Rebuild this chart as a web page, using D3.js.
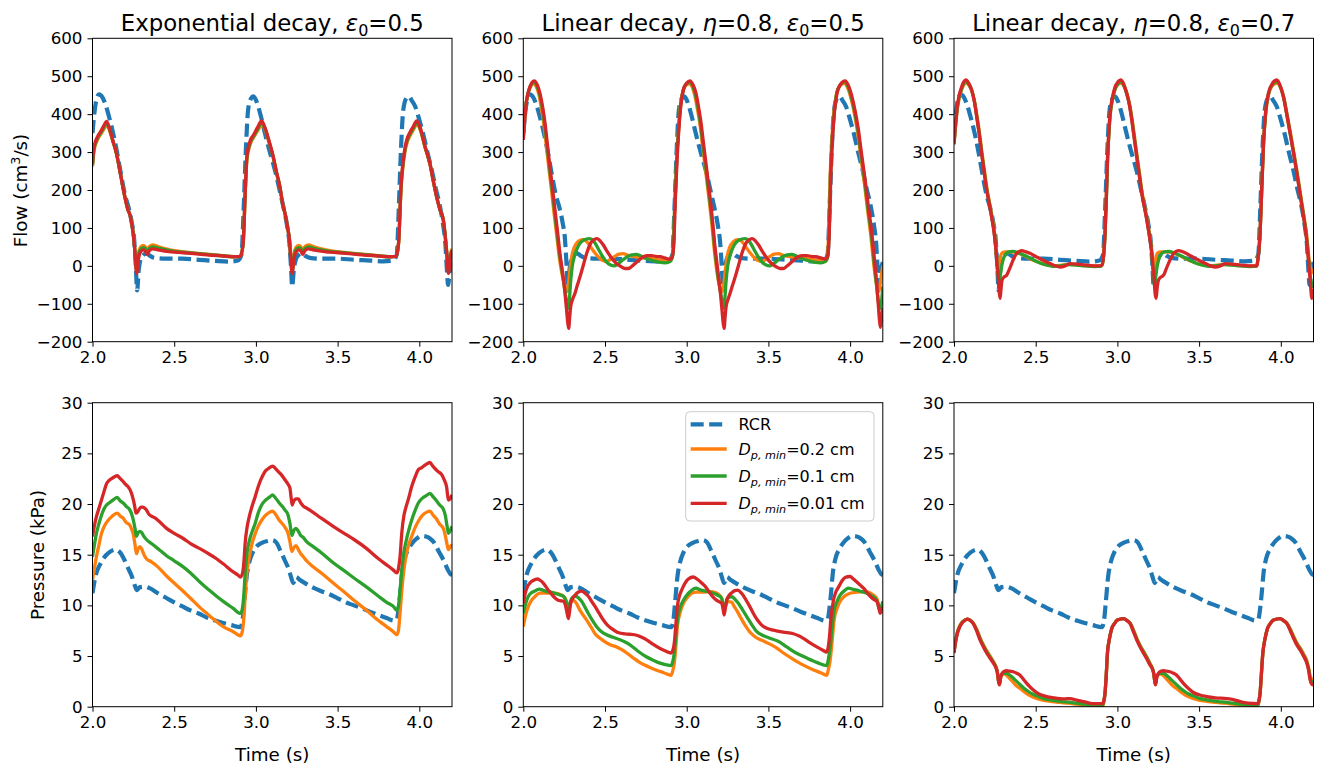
<!DOCTYPE html>
<html><head><meta charset="utf-8">
<script src="https://cdn.jsdelivr.net/npm/d3@7"></script>
<style>body{margin:0;background:#fff} svg text{font-family:"DejaVu Sans",sans-serif}</style>
</head><body><svg id="chart" width="1317" height="767"></svg>
<script>
// ---------------- DATA ----------------
const xDomain = [2.0, 4.2];
const xTicks = [2.0, 2.5, 3.0, 3.5, 4.0];
const flowDomain = [-200, 600];
const flowTicks = [-200, -100, 0, 100, 200, 300, 400, 500, 600];
const pressDomain = [0, 30];
const pressTicks = [0, 5, 10, 15, 20, 25, 30];
const seriesLabels = ["RCR", "0.2 cm", "0.1 cm", "0.01 cm"];
const seriesColors = ["#1f77b4", "#ff7f0e", "#2ca02c", "#d62728"];
const titles = [
  [{t:"Exponential decay, "},{t:"ε",it:1},{t:"0",sub:1},{t:"=0.5"}],
  [{t:"Linear decay, "},{t:"η",it:1},{t:"=0.8, "},{t:"ε",it:1},{t:"0",sub:1},{t:"=0.5"}],
  [{t:"Linear decay, "},{t:"η",it:1},{t:"=0.8, "},{t:"ε",it:1},{t:"0",sub:1},{t:"=0.7"}]
];

// RCR flow (cm3/s)
const flowRCR = [[2.00,350],[2.012,405],[2.025,440],[2.04,452],[2.06,445],[2.08,425],[2.10,395],[2.125,352],[2.15,300],[2.175,240],[2.20,185],[2.22,155],[2.24,115],[2.255,70],[2.265,0],[2.273,-65],[2.283,-10],[2.295,18],[2.31,28],[2.33,33],[2.35,27],[2.38,21],[2.45,19],[2.55,19],[2.65,16],[2.75,13],[2.83,11],[2.89,14],[2.912,30],[2.925,150],[2.938,300],[2.952,410],[2.968,440],[2.985,447],[3.005,432],[3.03,395],[3.055,350],[3.08,308],[3.10,278],[3.125,238],[3.15,190],[3.17,152],[3.19,108],[3.205,60],[3.215,-5],[3.222,-55],[3.232,-10],[3.245,18],[3.26,28],[3.28,33],[3.30,27],[3.33,21],[3.40,19],[3.50,19],[3.60,16],[3.70,14],[3.78,12],[3.84,14],[3.862,30],[3.875,160],[3.888,310],[3.902,412],[3.92,442],[3.935,447],[3.955,435],[3.975,420],[4.00,385],[4.025,345],[4.05,298],[4.075,255],[4.10,205],[4.125,160],[4.145,110],[4.16,55],[4.168,-5],[4.176,-50],[4.186,-15],[4.20,10]];

// Exponential decay flow
const flowExp02 = [[2.00,262],[2.01,305],[2.03,332],[2.055,350],[2.072,362],[2.088,372],[2.10,362],[2.125,328],[2.148,294],[2.17,245],[2.198,182],[2.215,152],[2.232,130],[2.249,88],[2.26,40],[2.27,-10],[2.28,30],[2.292,48],[2.31,54],[2.322,51],[2.335,41],[2.348,51],[2.37,55],[2.40,51],[2.50,40],[2.60,35],[2.70,31],[2.80,27],[2.87,24],[2.905,25],[2.922,60],[2.935,195],[2.945,280],[2.965,320],[2.985,338],[3.01,356],[3.037,372],[3.057,358],[3.08,326],[3.106,286],[3.127,244],[3.147,208],[3.165,161],[3.178,139],[3.192,106],[3.205,70],[3.213,25],[3.222,-10],[3.232,30],[3.244,48],[3.262,54],[3.274,51],[3.287,41],[3.30,51],[3.322,55],[3.35,51],[3.45,40],[3.55,35],[3.65,31],[3.75,27],[3.82,24],[3.858,25],[3.873,60],[3.888,200],[3.91,295],[3.925,325],[3.94,340],[3.96,356],[3.986,372],[4.006,358],[4.035,312],[4.065,268],[4.085,224],[4.106,182],[4.125,151],[4.147,121],[4.16,75],[4.168,38],[4.178,-5],[4.19,30],[4.20,45]];
const flowExp01 = [[2.00,266],[2.01,310],[2.03,336],[2.055,354],[2.072,367],[2.087,376],[2.10,365],[2.125,329],[2.147,295],[2.17,245],[2.198,182],[2.215,151],[2.232,130],[2.249,86],[2.26,37],[2.27,-15],[2.28,22],[2.292,42],[2.31,48],[2.322,46],[2.335,36],[2.348,46],[2.37,50],[2.40,47],[2.50,38],[2.60,34],[2.70,30],[2.80,26],[2.87,24],[2.905,25],[2.922,60],[2.935,198],[2.945,285],[2.965,325],[2.985,341],[3.01,360],[3.036,377],[3.056,362],[3.08,328],[3.106,287],[3.127,244],[3.147,208],[3.165,160],[3.178,138],[3.192,105],[3.205,68],[3.213,22],[3.222,-15],[3.232,22],[3.244,42],[3.262,48],[3.274,46],[3.287,36],[3.30,46],[3.322,50],[3.35,47],[3.45,38],[3.55,34],[3.65,30],[3.75,26],[3.82,24],[3.858,25],[3.873,60],[3.888,205],[3.91,300],[3.925,330],[3.94,345],[3.96,360],[3.985,377],[4.005,362],[4.035,314],[4.065,270],[4.085,225],[4.106,182],[4.125,150],[4.147,120],[4.16,72],[4.168,34],[4.178,-12],[4.19,25],[4.20,42]];
const flowExp001 = [[2.00,270],[2.01,315],[2.03,340],[2.055,358],[2.072,372],[2.086,381],[2.10,368],[2.125,330],[2.147,296],[2.17,245],[2.198,182],[2.215,150],[2.232,130],[2.249,85],[2.26,35],[2.27,-20],[2.28,15],[2.292,35],[2.31,42],[2.322,40],[2.335,30],[2.348,40],[2.37,45],[2.40,42],[2.50,36],[2.60,33],[2.70,29],[2.80,26],[2.87,24],[2.905,25],[2.922,60],[2.935,200],[2.945,290],[2.965,330],[2.985,345],[3.01,365],[3.035,382],[3.055,365],[3.08,330],[3.106,288],[3.127,245],[3.147,208],[3.165,160],[3.178,138],[3.192,105],[3.205,68],[3.213,20],[3.222,-20],[3.232,15],[3.244,35],[3.262,42],[3.274,40],[3.287,30],[3.30,40],[3.322,45],[3.35,42],[3.45,36],[3.55,33],[3.65,29],[3.75,26],[3.82,24],[3.858,25],[3.873,60],[3.888,210],[3.91,305],[3.925,335],[3.94,350],[3.96,365],[3.984,382],[4.005,365],[4.035,315],[4.065,270],[4.085,225],[4.106,182],[4.125,150],[4.147,120],[4.16,70],[4.168,30],[4.178,-20],[4.19,20],[4.20,40]];

// Linear decay eta=0.8, eps0=0.5 flow
const flowLinA02 = [[2.00,345],[2.016,425],[2.04,468],[2.062,480],[2.08,472],[2.097,448],[2.112,412],[2.127,368],[2.142,312],[2.157,255],[2.174,194],[2.188,140],[2.204,82],[2.218,30],[2.232,-10],[2.246,-40],[2.258,-60],[2.268,-68],[2.277,-45],[2.287,-5],[2.298,28],[2.313,50],[2.333,63],[2.36,69],[2.38,67],[2.40,58],[2.42,45],[2.44,33],[2.46,23],[2.485,14],[2.51,12],[2.535,17],[2.56,25],[2.585,31],[2.61,32],[2.64,28],[2.68,24],[2.72,22],[2.76,20],[2.80,18],[2.85,14],[2.89,12],[2.905,16],[2.918,50],[2.928,170],[2.938,270],[2.95,360],[2.963,428],[2.978,462],[2.995,476],[3.015,480],[3.033,472],[3.05,448],[3.066,412],[3.082,370],[3.097,316],[3.112,264],[3.127,210],[3.141,160],[3.155,105],[3.168,45],[3.181,-3],[3.194,-40],[3.207,-60],[3.219,-68],[3.228,-45],[3.238,-5],[3.249,28],[3.264,50],[3.284,63],[3.31,69],[3.33,67],[3.35,58],[3.37,45],[3.39,33],[3.41,23],[3.435,14],[3.46,12],[3.485,17],[3.51,25],[3.535,31],[3.56,32],[3.59,28],[3.63,24],[3.67,22],[3.71,20],[3.75,18],[3.80,14],[3.845,13],[3.858,20],[3.868,80],[3.878,240],[3.889,340],[3.901,408],[3.916,452],[3.936,474],[3.963,481],[3.984,470],[4.004,444],[4.024,406],[4.045,354],[4.064,292],[4.086,222],[4.106,150],[4.127,78],[4.142,15],[4.157,-38],[4.168,-60],[4.176,-68],[4.186,-40],[4.20,0]];
const flowLinA01 = [[2.00,338],[2.016,422],[2.04,470],[2.065,484],[2.083,475],[2.10,452],[2.116,416],[2.131,372],[2.146,314],[2.161,256],[2.178,195],[2.192,142],[2.207,85],[2.222,32],[2.236,-10],[2.248,-45],[2.258,-75],[2.267,-100],[2.275,-112],[2.281,-95],[2.29,-40],[2.30,0],[2.316,30],[2.34,55],[2.37,68],[2.405,72],[2.425,68],[2.445,56],[2.465,40],[2.485,25],[2.51,10],[2.535,2],[2.555,0],[2.58,6],[2.61,16],[2.64,25],[2.665,29],[2.69,30],[2.72,26],[2.75,20],[2.79,14],[2.83,10],[2.87,8],[2.90,12],[2.915,30],[2.926,150],[2.937,265],[2.95,358],[2.964,428],[2.98,465],[2.998,480],[3.018,484],[3.036,475],[3.053,452],[3.069,416],[3.085,372],[3.10,318],[3.115,266],[3.13,212],[3.144,162],[3.158,108],[3.171,48],[3.184,-2],[3.197,-45],[3.209,-75],[3.218,-100],[3.226,-112],[3.232,-95],[3.241,-40],[3.251,0],[3.267,30],[3.291,55],[3.321,68],[3.356,72],[3.376,68],[3.396,56],[3.416,40],[3.436,25],[3.461,10],[3.486,2],[3.506,0],[3.531,6],[3.561,16],[3.591,25],[3.616,29],[3.641,30],[3.671,26],[3.70,20],[3.74,14],[3.78,10],[3.82,8],[3.85,12],[3.862,22],[3.872,90],[3.881,245],[3.892,342],[3.904,410],[3.918,455],[3.938,476],[3.966,485],[3.987,473],[4.007,446],[4.027,408],[4.048,356],[4.067,294],[4.089,224],[4.109,152],[4.13,82],[4.145,18],[4.16,-45],[4.17,-85],[4.178,-108],[4.185,-112],[4.192,-95],[4.20,-55]];
const flowLinA001 = [[2.00,332],[2.016,420],[2.04,472],[2.067,488],[2.085,478],[2.102,455],[2.118,420],[2.133,376],[2.148,318],[2.163,261],[2.18,200],[2.194,147],[2.21,88],[2.224,33],[2.238,-10],[2.249,-47],[2.258,-85],[2.265,-117],[2.272,-150],[2.278,-165],[2.284,-135],[2.29,-108],[2.302,-88],[2.316,-73],[2.33,-52],[2.347,-29],[2.368,3],[2.388,33],[2.41,58],[2.429,68],[2.45,72],[2.47,66],[2.49,55],[2.51,40],[2.53,27],[2.551,15],[2.575,4],[2.602,-3],[2.625,-7],[2.643,-7],[2.665,-1],[2.684,6],[2.71,16],[2.735,24],[2.76,27],[2.785,27],[2.81,25],[2.837,24],[2.865,21],[2.898,17],[2.91,22],[2.92,50],[2.93,170],[2.94,270],[2.952,360],[2.966,430],[2.98,465],[3.00,482],[3.02,488],[3.038,478],[3.057,455],[3.072,420],[3.088,376],[3.103,322],[3.118,270],[3.133,215],[3.147,165],[3.16,110],[3.173,50],[3.187,0],[3.20,-47],[3.208,-80],[3.216,-117],[3.223,-150],[3.229,-165],[3.235,-135],[3.241,-108],[3.253,-88],[3.265,-73],[3.28,-52],[3.297,-29],[3.318,3],[3.338,33],[3.36,58],[3.38,68],[3.40,72],[3.42,66],[3.44,55],[3.46,40],[3.48,27],[3.50,15],[3.525,4],[3.55,-3],[3.572,-7],[3.592,-7],[3.612,-1],[3.632,6],[3.657,16],[3.682,24],[3.71,27],[3.735,27],[3.76,25],[3.79,24],[3.82,21],[3.852,18],[3.862,25],[3.872,80],[3.882,240],[3.893,340],[3.905,410],[3.92,455],[3.94,478],[3.969,488],[3.99,475],[4.01,448],[4.03,410],[4.051,358],[4.07,295],[4.092,226],[4.112,155],[4.133,85],[4.148,20],[4.163,-47],[4.172,-100],[4.18,-145],[4.185,-162],[4.192,-140],[4.20,-110]];

// Linear decay eta=0.8, eps0=0.7 flow
const flowLinB02 = [[2.00,320],[2.02,412],[2.047,465],[2.075,482],[2.092,476],[2.11,460],[2.126,432],[2.142,392],[2.158,344],[2.172,296],[2.188,246],[2.203,200],[2.218,165],[2.233,129],[2.248,88],[2.258,40],[2.265,0],[2.27,-18],[2.276,-5],[2.283,20],[2.292,33],[2.31,37],[2.34,37],[2.37,36],[2.40,33],[2.43,27],[2.46,20],[2.50,12],[2.54,6],[2.58,2],[2.62,0],[2.66,2],[2.70,4],[2.74,3],[2.78,1],[2.83,0],[2.89,-1],[2.906,2],[2.916,30],[2.924,85],[2.932,178],[2.939,275],[2.947,345],[2.955,396],[2.97,440],[2.986,466],[3.003,478],[3.022,482],[3.042,472],[3.06,452],[3.076,423],[3.091,383],[3.106,336],[3.121,288],[3.137,238],[3.152,191],[3.168,155],[3.183,120],[3.198,80],[3.21,40],[3.217,0],[3.222,-18],[3.228,-5],[3.235,20],[3.244,33],[3.262,37],[3.292,37],[3.322,36],[3.352,33],[3.382,27],[3.412,20],[3.452,12],[3.492,6],[3.532,2],[3.572,0],[3.612,2],[3.652,4],[3.692,3],[3.732,1],[3.78,0],[3.85,-1],[3.862,25],[3.873,85],[3.883,198],[3.894,318],[3.908,404],[3.924,450],[3.95,476],[3.978,482],[3.999,470],[4.019,442],[4.039,398],[4.06,348],[4.081,296],[4.101,244],[4.121,188],[4.142,130],[4.158,82],[4.172,20],[4.185,-10],[4.193,-18],[4.20,-8]];
const flowLinB01 = [[2.00,321],[2.02,416],[2.047,468],[2.074,486],[2.091,478],[2.109,462],[2.125,434],[2.14,392],[2.156,344],[2.17,296],[2.186,245],[2.201,200],[2.216,165],[2.231,129],[2.246,88],[2.257,41],[2.264,0],[2.27,-25],[2.276,-55],[2.281,-35],[2.29,-5],[2.30,15],[2.315,30],[2.335,37],[2.36,38],[2.39,35],[2.42,30],[2.45,24],[2.49,15],[2.53,7],[2.57,2],[2.61,-1],[2.65,0],[2.70,3],[2.75,2],[2.80,0],[2.86,-2],[2.90,-1],[2.908,5],[2.917,32],[2.925,88],[2.933,182],[2.94,280],[2.948,348],[2.956,398],[2.971,442],[2.987,468],[3.004,480],[3.021,486],[3.041,474],[3.058,452],[3.074,424],[3.089,384],[3.104,336],[3.119,288],[3.135,238],[3.15,191],[3.166,155],[3.181,120],[3.196,80],[3.209,40],[3.216,0],[3.222,-25],[3.228,-55],[3.233,-35],[3.242,-5],[3.252,15],[3.267,30],[3.287,37],[3.312,38],[3.342,35],[3.372,30],[3.402,24],[3.442,15],[3.482,7],[3.522,2],[3.562,-1],[3.602,0],[3.652,3],[3.702,2],[3.752,0],[3.81,-2],[3.852,-1],[3.862,25],[3.873,85],[3.883,199],[3.894,320],[3.908,407],[3.924,452],[3.95,479],[3.977,486],[3.997,472],[4.017,444],[4.037,399],[4.058,348],[4.079,296],[4.099,244],[4.119,188],[4.14,129],[4.156,80],[4.17,18],[4.18,-25],[4.188,-50],[4.194,-55],[4.20,-40]];
const flowLinB001 = [[2.00,323],[2.02,420],[2.047,472],[2.073,490],[2.09,482],[2.108,464],[2.124,435],[2.139,393],[2.155,345],[2.169,296],[2.185,245],[2.20,200],[2.215,165],[2.23,129],[2.245,88],[2.257,41],[2.265,-5],[2.271,-29],[2.277,-70],[2.282,-86],[2.288,-60],[2.294,-38],[2.305,-30],[2.322,-25],[2.338,-10],[2.353,6],[2.368,22],[2.384,33],[2.40,38],[2.414,40],[2.44,37],[2.465,33],[2.495,26],[2.527,19],[2.558,12],[2.588,6],[2.62,0],[2.649,-3],[2.68,0],[2.71,6],[2.74,5],[2.771,4],[2.81,2],[2.853,0],[2.89,0],[2.906,2],[2.916,30],[2.924,85],[2.932,180],[2.939,279],[2.947,350],[2.955,402],[2.97,445],[2.986,472],[3.003,485],[3.02,490],[3.04,478],[3.057,455],[3.073,425],[3.088,384],[3.103,336],[3.118,288],[3.134,238],[3.149,191],[3.165,155],[3.18,120],[3.195,80],[3.21,33],[3.218,-5],[3.224,-29],[3.23,-70],[3.237,-86],[3.243,-60],[3.251,-38],[3.265,-30],[3.282,-25],[3.297,-10],[3.312,6],[3.33,22],[3.345,33],[3.36,38],[3.372,40],[3.40,37],[3.42,33],[3.45,26],[3.48,19],[3.51,12],[3.54,6],[3.57,0],[3.60,-3],[3.63,0],[3.66,6],[3.69,5],[3.72,4],[3.76,2],[3.80,0],[3.853,0],[3.862,25],[3.873,85],[3.883,200],[3.894,323],[3.908,410],[3.924,455],[3.95,482],[3.976,490],[3.996,475],[4.016,446],[4.036,400],[4.057,349],[4.078,296],[4.098,244],[4.118,188],[4.139,129],[4.155,80],[4.169,15],[4.18,-40],[4.19,-86],[4.20,-60]];

// RCR pressure (kPa)
const pressRCR = [[2.00,11.2],[2.02,13.0],[2.045,14.0],[2.07,14.7],[2.10,15.2],[2.143,15.5],[2.17,15.2],[2.195,14.5],[2.22,13.6],[2.24,12.9],[2.258,12.0],[2.272,11.5],[2.29,11.8],[2.32,11.85],[2.35,11.7],[2.40,11.2],[2.45,10.75],[2.50,10.3],[2.55,9.9],[2.60,9.5],[2.65,9.2],[2.70,8.8],[2.75,8.5],[2.80,8.25],[2.85,8.05],[2.905,7.85],[2.918,8.5],[2.93,10.5],[2.943,12.8],[2.96,14.3],[2.98,15.2],[3.01,15.9],[3.04,16.2],[3.07,16.35],[3.10,16.45],[3.125,16.2],[3.15,15.4],[3.175,14.5],[3.20,13.6],[3.215,12.8],[3.229,12.2],[3.245,12.8],[3.27,12.5],[3.30,12.2],[3.35,11.75],[3.40,11.4],[3.45,11.1],[3.50,10.7],[3.55,10.3],[3.60,10.0],[3.65,9.7],[3.70,9.35],[3.75,9.05],[3.80,8.75],[3.845,8.5],[3.862,8.6],[3.872,9.5],[3.882,11.0],[3.895,13.3],[3.91,14.6],[3.935,15.6],[3.96,16.2],[3.985,16.6],[4.01,16.85],[4.04,16.8],[4.065,16.6],[4.09,16.2],[4.12,15.3],[4.15,14.4],[4.175,13.5],[4.19,13.1],[4.20,13.0]];

// Exponential decay pressure
const pressExp02 = [[2.00,12.5],[2.012,13.7],[2.024,14.8],[2.04,16.0],[2.055,17.1],[2.075,17.9],[2.096,18.4],[2.12,18.8],[2.151,19.1],[2.17,18.8],[2.188,18.6],[2.205,18.2],[2.229,17.9],[2.24,17.5],[2.25,17.0],[2.26,16.0],[2.269,15.1],[2.28,15.6],[2.29,15.8],[2.30,15.6],[2.315,15.0],[2.33,14.6],[2.361,14.3],[2.40,13.8],[2.453,12.9],[2.50,12.2],[2.555,11.4],[2.60,10.7],[2.657,9.8],[2.70,9.2],[2.759,8.4],[2.80,7.9],[2.861,7.4],[2.905,7.0],[2.915,7.3],[2.925,8.5],[2.935,11.0],[2.945,13.2],[2.96,14.8],[2.975,16.0],[2.994,17.0],[3.014,17.8],[3.035,18.4],[3.06,18.9],[3.085,19.2],[3.102,19.3],[3.12,19.0],[3.143,18.4],[3.165,18.0],[3.178,17.7],[3.195,17.2],[3.208,16.3],[3.22,15.3],[3.232,15.7],[3.245,15.9],[3.26,15.5],[3.274,15.1],[3.29,14.8],[3.31,14.4],[3.35,13.8],[3.40,13.2],[3.473,12.2],[3.55,11.2],[3.60,10.5],[3.678,9.5],[3.75,8.5],[3.80,7.9],[3.841,7.4],[3.862,7.1],[3.872,7.5],[3.882,9.2],[3.893,11.5],[3.905,13.4],[3.92,15.0],[3.935,16.0],[3.953,16.8],[3.975,17.7],[3.994,18.3],[4.02,18.9],[4.045,19.2],[4.065,19.3],[4.085,18.9],[4.106,18.5],[4.125,18.0],[4.147,17.6],[4.16,16.8],[4.17,16.0],[4.178,15.5],[4.19,15.8],[4.20,16.0]];
const pressExp01 = [[2.00,14.8],[2.012,16.0],[2.024,17.1],[2.04,18.1],[2.055,18.9],[2.07,19.5],[2.086,19.9],[2.11,20.2],[2.13,20.45],[2.151,20.65],[2.17,20.3],[2.188,20.1],[2.205,19.8],[2.229,19.4],[2.24,19.0],[2.25,18.4],[2.26,17.6],[2.269,16.8],[2.28,17.2],[2.29,17.3],[2.30,17.2],[2.315,16.8],[2.33,16.5],[2.361,16.1],[2.40,15.6],[2.453,14.9],[2.50,14.4],[2.555,13.8],[2.60,13.2],[2.657,12.3],[2.70,11.7],[2.759,10.9],[2.80,10.4],[2.861,9.7],[2.905,9.2],[2.915,9.5],[2.925,10.8],[2.935,13.3],[2.945,15.1],[2.96,16.4],[2.975,17.2],[2.994,18.0],[3.014,19.1],[3.035,19.9],[3.06,20.4],[3.085,20.7],[3.102,20.9],[3.12,20.6],[3.143,20.1],[3.165,19.7],[3.178,19.4],[3.195,19.0],[3.208,18.1],[3.22,16.9],[3.232,17.4],[3.245,17.6],[3.26,17.3],[3.274,16.9],[3.29,16.7],[3.31,16.3],[3.35,15.8],[3.40,15.2],[3.473,14.2],[3.55,13.3],[3.60,12.7],[3.678,11.8],[3.75,10.9],[3.80,10.3],[3.841,9.9],[3.862,9.5],[3.872,9.9],[3.882,11.5],[3.893,13.5],[3.905,15.2],[3.92,16.4],[3.935,17.4],[3.953,18.4],[3.975,19.4],[3.994,20.1],[4.02,20.6],[4.045,20.85],[4.065,21.05],[4.085,20.7],[4.106,20.3],[4.125,19.9],[4.147,19.5],[4.16,18.8],[4.17,17.8],[4.178,17.1],[4.19,17.4],[4.20,17.8]];
const pressExp001 = [[2.00,16.8],[2.012,17.9],[2.024,18.75],[2.04,19.6],[2.055,20.4],[2.07,21.2],[2.086,22.0],[2.10,22.3],[2.116,22.5],[2.135,22.7],[2.151,22.8],[2.17,22.5],[2.188,22.2],[2.205,21.9],[2.218,21.7],[2.23,21.4],[2.24,21.0],[2.25,20.4],[2.258,19.8],[2.266,19.1],[2.275,19.2],[2.286,19.5],[2.298,19.7],[2.308,19.7],[2.318,19.6],[2.33,19.4],[2.345,19.0],[2.361,18.8],[2.38,18.65],[2.40,18.4],[2.453,17.6],[2.50,17.1],[2.555,16.6],[2.60,16.1],[2.657,15.6],[2.70,15.2],[2.759,14.6],[2.80,14.1],[2.861,13.3],[2.89,13.0],[2.905,12.8],[2.915,13.0],[2.925,14.0],[2.935,16.3],[2.945,17.6],[2.96,18.8],[2.975,19.7],[2.995,20.7],[3.014,21.7],[3.03,22.4],[3.045,22.9],[3.06,23.3],[3.076,23.5],[3.09,23.65],[3.102,23.75],[3.12,23.5],[3.137,23.2],[3.155,22.9],[3.178,22.4],[3.195,22.0],[3.208,21.6],[3.215,20.7],[3.222,19.9],[3.232,20.3],[3.245,20.5],[3.259,20.5],[3.275,20.1],[3.29,19.8],[3.31,19.6],[3.33,19.4],[3.40,18.6],[3.473,17.8],[3.55,17.0],[3.60,16.5],[3.678,15.6],[3.75,14.6],[3.80,14.0],[3.84,13.5],[3.862,13.2],[3.872,13.6],[3.882,14.8],[3.893,17.2],[3.905,18.8],[3.915,19.5],[3.935,20.6],[3.953,21.7],[3.975,22.7],[3.994,23.4],[4.015,23.6],[4.035,23.85],[4.05,24.0],[4.065,24.1],[4.08,23.8],[4.096,23.5],[4.115,23.2],[4.137,22.9],[4.152,22.4],[4.167,21.7],[4.172,21.0],[4.178,20.4],[4.188,20.5],[4.20,20.9]];

// Linear decay eta=0.8, eps0=0.5 pressure
const pressLinA02 = [[2.00,7.9],[2.015,9.1],[2.031,9.9],[2.05,10.5],[2.07,10.85],[2.102,11.2],[2.14,11.2],[2.19,11.2],[2.235,11.0],[2.252,10.8],[2.262,10.5],[2.276,9.5],[2.285,10.0],[2.296,10.5],[2.31,10.45],[2.325,10.2],[2.347,9.5],[2.368,9.0],[2.388,8.55],[2.413,7.9],[2.439,7.2],[2.47,6.75],[2.50,6.4],[2.535,6.1],[2.571,5.9],[2.60,5.65],[2.633,5.3],[2.67,4.85],[2.714,4.35],[2.765,3.95],[2.816,3.6],[2.86,3.35],[2.904,3.1],[2.914,3.5],[2.924,4.3],[2.934,6.0],[2.943,7.9],[2.96,9.3],[2.98,10.2],[3.005,10.8],[3.031,11.2],[3.06,11.3],[3.10,11.3],[3.143,11.35],[3.18,11.25],[3.20,11.0],[3.214,10.7],[3.222,10.1],[3.229,9.4],[3.238,9.9],[3.249,10.4],[3.262,10.35],[3.276,10.3],[3.29,9.9],[3.306,9.5],[3.33,8.8],[3.357,8.05],[3.385,7.4],[3.418,6.9],[3.46,6.55],[3.50,6.25],[3.545,5.85],[3.592,5.3],[3.65,4.7],[3.714,4.1],[3.78,3.6],[3.82,3.35],[3.857,3.1],[3.866,3.6],[3.878,4.6],[3.89,6.5],[3.902,8.55],[3.92,9.7],[3.939,10.4],[3.965,10.9],[4.00,11.2],[4.04,11.3],[4.082,11.35],[4.11,11.3],[4.143,11.0],[4.165,10.6],[4.175,10.0],[4.184,9.5],[4.192,9.7],[4.20,9.9]];
const pressLinA01 = [[2.00,9.2],[2.015,10.2],[2.031,10.9],[2.046,11.2],[2.061,11.35],[2.08,11.5],[2.098,11.6],[2.12,11.5],[2.143,11.35],[2.17,11.3],[2.194,11.2],[2.22,11.05],[2.245,10.9],[2.262,10.4],[2.276,9.7],[2.285,10.2],[2.296,10.7],[2.308,10.85],[2.322,10.9],[2.34,10.7],[2.357,10.4],[2.378,9.8],[2.398,9.2],[2.42,8.6],[2.449,7.9],[2.475,7.45],[2.51,7.1],[2.55,6.85],[2.592,6.6],[2.62,6.4],[2.653,6.1],[2.70,5.5],[2.755,4.9],[2.80,4.55],[2.837,4.3],[2.87,4.15],[2.904,4.05],[2.914,4.4],[2.924,5.3],[2.934,7.0],[2.943,8.55],[2.96,9.8],[2.98,10.5],[3.00,11.0],[3.02,11.35],[3.057,11.7],[3.08,11.55],[3.102,11.45],[3.13,11.35],[3.163,11.2],[3.19,11.0],[3.214,10.7],[3.222,10.1],[3.229,9.5],[3.238,10.1],[3.249,10.7],[3.262,10.8],[3.276,10.85],[3.295,10.6],[3.316,10.2],[3.34,9.6],[3.367,8.9],[3.398,8.1],[3.429,7.4],[3.47,7.0],[3.51,6.75],[3.56,6.45],[3.612,5.9],[3.67,5.3],[3.735,4.8],[3.80,4.35],[3.857,4.05],[3.866,4.6],[3.878,5.9],[3.89,7.8],[3.902,9.5],[3.92,10.4],[3.939,11.0],[3.965,11.45],[3.99,11.7],[4.015,11.6],[4.041,11.5],[4.07,11.35],[4.102,11.2],[4.135,10.9],[4.163,10.5],[4.175,9.9],[4.184,9.4],[4.192,9.9],[4.20,10.4]];
const pressLinA001 = [[2.00,10.2],[2.012,11.2],[2.024,11.8],[2.04,12.2],[2.06,12.45],[2.088,12.6],[2.105,12.45],[2.122,12.2],[2.138,11.85],[2.153,11.5],[2.168,11.2],[2.184,10.9],[2.20,10.65],[2.214,10.5],[2.23,10.45],[2.245,10.4],[2.258,10.0],[2.266,9.4],[2.276,8.7],[2.283,9.4],[2.29,10.2],[2.303,10.7],[2.316,11.0],[2.335,11.3],[2.357,11.4],[2.378,11.2],[2.398,10.9],[2.418,10.4],[2.439,9.9],[2.465,9.2],[2.49,8.55],[2.515,8.05],[2.541,7.7],[2.575,7.35],[2.612,7.2],[2.65,7.15],[2.694,7.05],[2.725,6.85],[2.755,6.6],[2.795,6.15],[2.837,5.75],[2.87,5.5],[2.904,5.3],[2.914,5.5],[2.924,6.3],[2.934,8.2],[2.943,9.9],[2.955,10.9],[2.969,11.5],[2.99,12.2],[3.01,12.6],[3.041,12.8],[3.071,12.5],[3.092,12.2],[3.112,11.9],[3.128,11.55],[3.143,11.2],[3.163,10.8],[3.184,10.5],[3.20,10.35],[3.214,10.2],[3.222,9.7],[3.229,9.05],[3.237,9.8],[3.245,10.5],[3.26,11.0],[3.276,11.25],[3.295,11.45],[3.312,11.5],[3.335,11.2],[3.357,10.7],[3.382,10.0],[3.408,9.2],[3.435,8.5],[3.459,8.05],[3.49,7.75],[3.531,7.55],[3.59,7.35],[3.653,7.2],[3.685,7.0],[3.714,6.75],[3.755,6.3],[3.796,5.9],[3.83,5.6],[3.857,5.4],[3.866,5.9],[3.873,6.8],[3.883,8.8],[3.898,10.5],[3.912,11.3],[3.929,11.8],[3.95,12.4],[3.969,12.75],[4.00,12.85],[4.02,12.6],[4.041,12.3],[4.062,12.0],[4.082,11.7],[4.102,11.3],[4.122,10.9],[4.143,10.6],[4.163,10.4],[4.175,9.8],[4.184,9.2],[4.192,9.5],[4.20,9.9]];

// Linear decay eta=0.8, eps0=0.7 pressure
const pressLinB02 = [[2.00,5.4],[2.01,6.5],[2.02,7.3],[2.033,7.9],[2.047,8.3],[2.065,8.55],[2.084,8.65],[2.102,8.5],[2.12,8.2],[2.14,7.6],[2.161,6.75],[2.182,6.05],[2.203,5.45],[2.223,4.95],[2.243,4.4],[2.257,3.95],[2.266,3.4],[2.272,2.6],[2.278,2.25],[2.286,3.0],[2.294,3.2],[2.31,3.25],[2.325,3.05],[2.34,2.8],[2.36,2.45],[2.38,2.1],[2.40,1.85],[2.42,1.6],[2.445,1.3],[2.47,1.05],[2.50,0.85],[2.53,0.7],[2.57,0.58],[2.60,0.5],[2.65,0.42],[2.70,0.35],[2.75,0.25],[2.80,0.15],[2.853,0.08],[2.91,0.05],[2.917,0.5],[2.924,1.3],[2.932,3.2],[2.939,5.3],[2.95,6.6],[2.965,7.7],[2.982,8.2],[3.0,8.55],[3.037,8.7],[3.06,8.5],[3.08,8.2],[3.10,7.5],[3.12,6.7],[3.141,6.0],[3.161,5.45],[3.182,4.85],[3.202,4.2],[3.213,3.85],[3.222,3.3],[3.228,2.6],[3.233,2.25],[3.241,3.0],[3.251,3.2],[3.267,3.25],[3.282,3.05],[3.297,2.8],[3.317,2.45],[3.337,2.1],[3.357,1.85],[3.377,1.6],[3.402,1.3],[3.427,1.05],[3.457,0.85],[3.487,0.7],[3.527,0.58],[3.557,0.5],[3.607,0.42],[3.657,0.35],[3.707,0.25],[3.757,0.15],[3.81,0.08],[3.859,0.05],[3.866,0.5],[3.873,1.3],[3.881,3.2],[3.89,5.3],[3.902,6.6],[3.918,7.7],[3.935,8.2],[3.955,8.55],[3.998,8.7],[4.018,8.5],[4.04,8.2],[4.06,7.6],[4.08,6.9],[4.10,6.25],[4.12,5.75],[4.141,5.15],[4.161,4.45],[4.172,3.7],[4.182,2.8],[4.191,2.5],[4.20,2.9]];
const pressLinB01 = [[2.00,5.35],[2.01,6.45],[2.02,7.25],[2.033,7.85],[2.047,8.25],[2.065,8.52],[2.083,8.65],[2.101,8.5],[2.119,8.2],[2.139,7.55],[2.16,6.7],[2.181,6.0],[2.201,5.4],[2.221,4.9],[2.242,4.35],[2.256,3.92],[2.265,3.4],[2.272,2.6],[2.278,2.2],[2.286,2.95],[2.294,3.2],[2.308,3.3],[2.322,3.3],[2.35,3.0],[2.37,2.7],[2.39,2.4],[2.41,2.1],[2.43,1.8],[2.455,1.5],[2.48,1.25],[2.51,1.05],[2.54,0.85],[2.58,0.7],[2.62,0.6],[2.66,0.5],[2.70,0.45],[2.75,0.35],[2.80,0.25],[2.853,0.18],[2.91,0.15],[2.917,0.55],[2.924,1.3],[2.932,3.2],[2.939,5.3],[2.95,6.6],[2.965,7.7],[2.982,8.2],[3.0,8.55],[3.037,8.7],[3.059,8.5],[3.079,8.2],[3.099,7.45],[3.119,6.65],[3.14,5.95],[3.16,5.4],[3.181,4.8],[3.201,4.15],[3.212,3.82],[3.222,3.3],[3.228,2.6],[3.233,2.2],[3.241,2.95],[3.251,3.2],[3.265,3.3],[3.28,3.3],[3.307,3.0],[3.327,2.7],[3.347,2.4],[3.367,2.1],[3.387,1.8],[3.412,1.5],[3.437,1.25],[3.467,1.05],[3.497,0.85],[3.537,0.7],[3.577,0.6],[3.617,0.5],[3.657,0.45],[3.707,0.35],[3.757,0.25],[3.81,0.18],[3.859,0.15],[3.866,0.55],[3.873,1.3],[3.881,3.2],[3.89,5.3],[3.902,6.6],[3.918,7.7],[3.935,8.2],[3.955,8.55],[3.997,8.7],[4.016,8.5],[4.038,8.2],[4.059,7.55],[4.079,6.8],[4.099,6.15],[4.119,5.65],[4.14,5.05],[4.16,4.35],[4.171,3.65],[4.181,2.7],[4.19,2.35],[4.20,2.6]];
const pressLinB001 = [[2.00,5.3],[2.01,6.4],[2.02,7.2],[2.033,7.8],[2.047,8.2],[2.065,8.5],[2.082,8.65],[2.10,8.5],[2.118,8.2],[2.138,7.5],[2.159,6.6],[2.18,5.9],[2.20,5.3],[2.22,4.8],[2.241,4.3],[2.255,3.9],[2.265,3.4],[2.272,2.6],[2.278,2.15],[2.286,2.9],[2.294,3.3],[2.308,3.5],[2.322,3.55],[2.342,3.5],[2.363,3.45],[2.384,3.3],[2.404,3.1],[2.425,2.7],[2.445,2.3],[2.475,1.8],[2.506,1.4],[2.535,1.15],[2.567,1.0],[2.61,0.88],[2.649,0.8],[2.68,0.78],[2.71,0.8],[2.75,0.65],[2.792,0.5],[2.853,0.3],[2.91,0.3],[2.917,0.6],[2.924,1.3],[2.932,3.2],[2.939,5.3],[2.95,6.6],[2.965,7.7],[2.982,8.2],[3.0,8.55],[3.037,8.7],[3.058,8.5],[3.078,8.2],[3.098,7.4],[3.118,6.6],[3.139,5.9],[3.159,5.3],[3.18,4.7],[3.20,4.1],[3.212,3.8],[3.222,3.3],[3.228,2.6],[3.233,2.15],[3.241,2.9],[3.251,3.3],[3.265,3.5],[3.282,3.55],[3.302,3.5],[3.322,3.45],[3.343,3.3],[3.363,3.1],[3.384,2.7],[3.404,2.3],[3.435,1.8],[3.465,1.4],[3.505,1.15],[3.547,1.0],[3.60,0.88],[3.669,0.8],[3.71,0.7],[3.751,0.5],[3.80,0.35],[3.859,0.3],[3.866,0.6],[3.873,1.3],[3.881,3.2],[3.89,5.3],[3.902,6.6],[3.918,7.7],[3.935,8.2],[3.955,8.55],[3.996,8.7],[4.015,8.5],[4.037,8.2],[4.058,7.5],[4.078,6.75],[4.098,6.1],[4.118,5.6],[4.139,5.0],[4.159,4.3],[4.17,3.6],[4.18,2.6],[4.19,2.2],[4.20,2.15]];

// ---------------- LAYOUT ----------------
const svg = d3.select("#chart");
const colLeft = [92.5, 523.3, 954];
const pw = 359.5;
const rowTop = [38.3, 402.7];
const rowH = [303.4, 304];
const FONT = "DejaVu Sans, sans-serif";
const TICK_FS = 16.7, LABEL_FS = 18.3, TITLE_FS = 22.8, LEG_FS = 16;

const panels = [
  {col:0,row:0,kind:"flow",series:[flowRCR,flowExp02,flowExp01,flowExp001]},
  {col:1,row:0,kind:"flow",series:[flowRCR,flowLinA02,flowLinA01,flowLinA001]},
  {col:2,row:0,kind:"flow",series:[flowRCR,flowLinB02,flowLinB01,flowLinB001]},
  {col:0,row:1,kind:"press",series:[pressRCR,pressExp02,pressExp01,pressExp001]},
  {col:1,row:1,kind:"press",series:[pressRCR,pressLinA02,pressLinA01,pressLinA001]},
  {col:2,row:1,kind:"press",series:[pressRCR,pressLinB02,pressLinB01,pressLinB001]}
];

function styleSeries(path, i) {
  path.attr("fill","none").attr("stroke",seriesColors[i])
    .attr("stroke-width", i===0 ? 4.2 : 3.3)
    .attr("stroke-linejoin","round")
    .attr("stroke-dasharray", i===0 ? "13,5.5" : null);
}

panels.forEach((p, pi) => {
  const h = rowH[p.row];
  const g = svg.append("g").attr("transform", `translate(${colLeft[p.col]},${rowTop[p.row]})`);
  const x = d3.scaleLinear().domain(xDomain).range([0, pw]);
  const y = d3.scaleLinear().domain(p.kind === "flow" ? flowDomain : pressDomain).range([h, 0]);
  const clipId = "clip" + pi;
  g.append("clipPath").attr("id", clipId).append("rect").attr("width", pw).attr("height", h);
  const line = d3.line().x(d => x(d[0])).y(d => y(d[1])).curve(d3.curveMonotoneX);
  const lg = g.append("g").attr("clip-path", `url(#${clipId})`);
  p.series.forEach((s, i) => styleSeries(lg.append("path").datum(s).attr("d", line), i));

  const xa = g.append("g").attr("transform", `translate(0,${h})`)
    .call(d3.axisBottom(x).tickValues(xTicks).tickFormat(d3.format(".1f")).tickSize(5).tickPadding(4));
  const ya = g.append("g")
    .call(d3.axisLeft(y).tickValues(p.kind === "flow" ? flowTicks : pressTicks).tickFormat(d3.format("d")).tickSize(5).tickPadding(5));
  [xa, ya].forEach(a => {
    a.select(".domain").remove();
    a.attr("font-size", TICK_FS).attr("font-family", FONT);
    a.selectAll("line").attr("stroke", "#000").attr("stroke-width", 1);
    a.selectAll("text").attr("fill", "#000");
  });
  g.append("rect").attr("width", pw).attr("height", h).attr("fill", "none").attr("stroke", "#000").attr("stroke-width", 1);

  if (p.row === 0) {
    const t = g.append("text").attr("x", pw / 2).attr("y", 31 - rowTop[0]).attr("text-anchor", "middle")
      .attr("font-size", TITLE_FS).attr("font-family", FONT).attr("fill", "#000");
    let shifted = false;
    titles[p.col].forEach(seg => {
      const ts = t.append("tspan").text(seg.t);
      if (seg.it) ts.attr("font-style", "italic");
      if (seg.sub) { ts.attr("font-size", TITLE_FS * 0.7).attr("dy", 5); shifted = true; }
      else if (shifted) { ts.attr("dy", -5); shifted = false; }
    });
  } else {
    g.append("text").attr("x", pw / 2).attr("y", 761 - rowTop[1]).attr("text-anchor", "middle")
      .attr("font-size", LABEL_FS).attr("font-family", FONT).attr("fill", "#000").text("Time (s)");
  }
});

// Y axis labels
const fl = svg.append("text").attr("transform", "translate(27,190.5) rotate(-90)").attr("text-anchor", "middle")
  .attr("font-size", LABEL_FS).attr("font-family", FONT).attr("fill", "#000");
fl.append("tspan").text("Flow (cm");
fl.append("tspan").text("3").attr("font-size", LABEL_FS * 0.7).attr("dy", -7.5);
fl.append("tspan").text("/s)").attr("dy", 7.5);
svg.append("text").attr("transform", "translate(43.5,555) rotate(-90)").attr("text-anchor", "middle")
  .attr("font-size", LABEL_FS).attr("font-family", FONT).attr("fill", "#000").text("Pressure (kPa)");

// Legend (in middle bottom panel)
const leg = svg.append("g");
leg.append("rect").attr("x", 685.7).attr("y", 411.7).attr("width", 188.3).attr("height", 109.3).attr("rx", 4)
  .attr("fill", "#fff").attr("fill-opacity", 0.8).attr("stroke", "#ccc").attr("stroke-width", 1);
const rowsY = [424.3, 449, 476, 503.3];
seriesLabels.forEach((lab, i) => {
  styleSeries(leg.append("path").attr("d", `M690.7,${rowsY[i]}H726.7`), i);
  const tx = leg.append("text").attr("x", 738.5).attr("y", rowsY[i] + 5.8).attr("font-size", LEG_FS)
    .attr("font-family", FONT).attr("fill", "#000");
  if (i === 0) { tx.text(lab); }
  else {
    tx.append("tspan").text("D").attr("font-style", "italic");
    tx.append("tspan").text("p, min").attr("font-style", "italic").attr("font-size", LEG_FS * 0.7).attr("dy", 4);
    tx.append("tspan").text("=" + lab).attr("dy", -4);
  }
});
</script>
</body></html>
